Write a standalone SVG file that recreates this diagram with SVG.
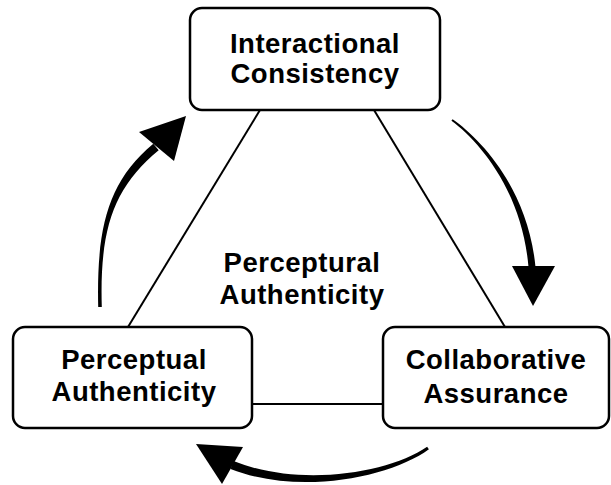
<svg xmlns="http://www.w3.org/2000/svg" width="611" height="485" viewBox="0 0 611 485">
<style>
.box{fill:#fff;stroke:#000;stroke-width:2.5}
.t{font-family:"Liberation Sans",Arial,sans-serif;font-weight:bold;font-size:27.5px;letter-spacing:0.5px;text-anchor:middle;fill:#000}
.ln{stroke:#000;stroke-width:2;fill:none}
.ar{fill:#000;stroke:none}
</style>
<rect width="611" height="485" fill="#fff"/>
<g id="connectors">
<line class="ln" x1="260" y1="110" x2="128" y2="327"/>
<line class="ln" x1="374" y1="110" x2="505" y2="327"/>
<line class="ln" x1="252" y1="404" x2="383" y2="404"/>
<path class="ar" d="M452.6,119.2 C481,139 528,189 535.5,267 L528.5,267 C522,191 479,141 451.4,120.8 Z"/>
<polygon class="ar" points="512,266 555,266 533,306"/>
<path class="ar" d="M101.8,307 C99.5,230 113,188 158.7,150.3 L153.3,143.7 C107,182 96.5,230 98.2,307 Z"/>
<polygon class="ar" points="139,132 174,161 186,116"/>
<path class="ar" d="M427.1,446.8 C389,473 300,488 233.5,461 L230.5,469 C300,496 391,477 428.9,449.2 Z"/>
<polygon class="ar" points="243,447 222,484 196,444"/>
</g>
<g id="node-top">
<rect class="box" x="190" y="8" width="250" height="102" rx="12"/>
<text class="t" x="315" y="53">Interactional</text>
<text class="t" x="315" y="83">Consistency</text>
</g>
<g id="node-left">
<rect class="box" x="13" y="327" width="239" height="101" rx="12"/>
<text class="t" x="134" y="369">Perceptual</text>
<text class="t" x="134" y="401">Authenticity</text>
</g>
<g id="node-right">
<rect class="box" x="383" y="327" width="226" height="101" rx="12"/>
<text class="t" x="496" y="369">Collaborative</text>
<text class="t" x="496" y="403">Assurance</text>
</g>
<g id="center-label">
<text class="t" x="302" y="272">Perceptural</text>
<text class="t" x="302" y="304">Authenticity</text>
</g>
</svg>
